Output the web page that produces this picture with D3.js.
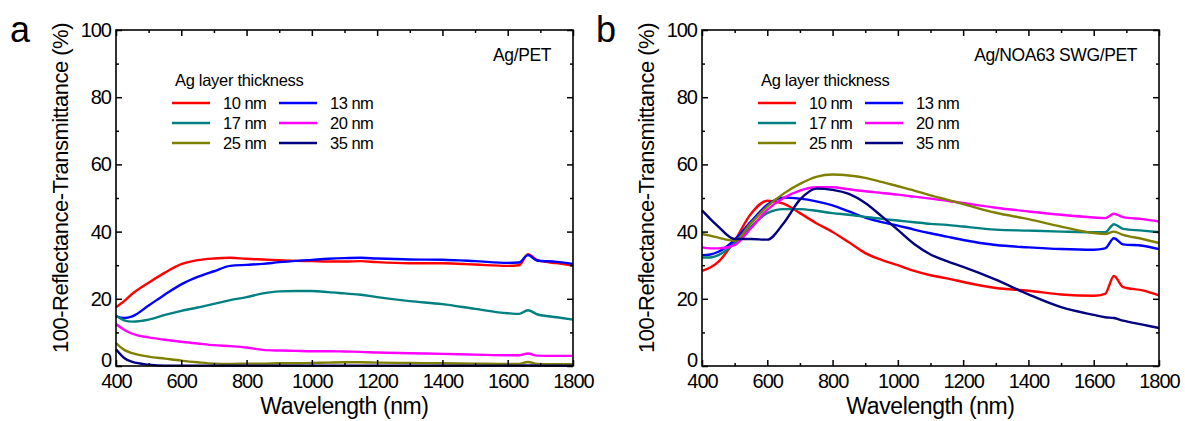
<!DOCTYPE html>
<html>
<head>
<meta charset="utf-8">
<script src="https://cdn.jsdelivr.net/npm/d3@7"></script>
<style>
  body { margin: 0; background: #fff; }
  svg { display: block; font-family: "Liberation Sans", Arial, sans-serif; }
</style>
</head>
<body>
<div id="chart"></div>
<script>
// wavelength grid (nm) shared by all curves
const wavelength = [400, 425, 450, 500, 550, 600, 650, 700, 750, 800, 850, 900, 950, 1000, 1050, 1100, 1150, 1200, 1300, 1400, 1500, 1600, 1635, 1662, 1690, 1750, 1800];

const thickness = ["10 nm", "13 nm", "17 nm", "20 nm", "25 nm", "35 nm"];
const colors = ["#ff0000", "#0000ff", "#008080", "#ff00ff", "#808000", "#000080"];

const xTicks = [400, 600, 800, 1000, 1200, 1400, 1600, 1800];
const yTicks = [0, 20, 40, 60, 80, 100];

// panel a : Ag/PET
const a_10nm = [17.5, 19.3, 21.5, 24.8, 27.8, 30.3, 31.5, 32, 32.2, 31.9, 31.7, 31.5, 31.3, 31.2, 31.1, 31.1, 31.2, 30.9, 30.6, 30.6, 30.2, 29.8, 30, 33.3, 31.5, 30.6, 29.9];
const a_13nm = [14.8, 14.3, 14.8, 18, 21.3, 24.3, 26.5, 28.2, 29.8, 30.1, 30.4, 30.9, 31.3, 31.6, 31.9, 32.1, 32.2, 32, 31.7, 31.6, 31.2, 30.7, 30.8, 33, 31.4, 31, 30.4];
const a_17nm = [15, 13.6, 13.2, 13.8, 15.2, 16.4, 17.4, 18.5, 19.6, 20.5, 21.6, 22.2, 22.3, 22.3, 22, 21.6, 21.2, 20.5, 19.3, 18.4, 17, 15.7, 15.5, 16.6, 15.4, 14.5, 13.8];
const a_20nm = [12.5, 10.8, 9.6, 8.5, 7.8, 7.2, 6.7, 6.2, 5.9, 5.5, 4.8, 4.6, 4.5, 4.4, 4.4, 4.3, 4.2, 4, 3.8, 3.6, 3.4, 3.2, 3.2, 3.7, 3.1, 3, 3];
const a_25nm = [6.8, 4.8, 3.8, 2.8, 2.2, 1.6, 1.1, 0.7, 0.6, 0.7, 0.7, 0.8, 0.8, 0.9, 1, 1.1, 1.1, 1, 0.9, 0.8, 0.7, 0.6, 0.6, 1.2, 0.6, 0.5, 0.5];
const a_35nm = [5, 2.4, 1.2, 0.4, 0.1, 0.1, 0.1, 0.1, 0.1, 0.1, 0.1, 0.1, 0.1, 0.1, 0.1, 0.1, 0.1, 0.1, 0.1, 0.1, 0.1, 0.1, 0.1, 0.2, 0.1, 0.1, 0.1];

// panel b : Ag/NOA63 SWG/PET
const b_10nm = [28.3, 29.3, 31, 37.3, 45.3, 49.2, 48.3, 45.5, 42.5, 39.9, 36.8, 33.6, 31.6, 30, 28.3, 27, 26.1, 25, 23.2, 22.4, 21.3, 20.9, 21.5, 26.8, 23.5, 22.5, 21];
const b_13nm = [33, 33.2, 34, 37.5, 43, 48, 50.1, 49.8, 49, 47.8, 46, 44.2, 42.8, 41.8, 40.6, 39.5, 38.5, 37.5, 36, 35.3, 34.8, 34.6, 35, 38, 36.2, 35.8, 34.8];
const b_17nm = [32.3, 32.3, 33, 36.5, 41.5, 45.5, 46.7, 46.7, 46.2, 45.5, 45, 44.4, 43.8, 43.3, 42.8, 42.3, 42, 41.5, 40.6, 40.3, 40, 39.8, 39.8, 42.2, 40.8, 40.3, 39.8];
const b_20nm = [35.3, 35, 35, 36, 41, 46.5, 50, 52.2, 53.2, 53.2, 52.6, 52, 51.5, 51, 50.4, 49.8, 49.2, 48.5, 47.1, 46, 45, 44.2, 44, 45.3, 44.3, 43.7, 43];
const b_25nm = [39.3, 38.8, 38.2, 37.3, 42.5, 47.5, 51.3, 54.2, 56.3, 57, 56.7, 56, 54.8, 53.5, 52.2, 50.8, 49.5, 48.2, 45.6, 43.7, 41.5, 39.6, 39.3, 40, 39, 37.8, 36.6];
const b_35nm = [46.3, 43.8, 41.5, 37.8, 37.8, 37.6, 42.5, 49.5, 52.8, 52.4, 51.2, 48.5, 44.6, 40.5, 36.3, 33.2, 31.2, 29.5, 25.7, 21.3, 17.5, 15.2, 14.5, 14.3, 13.5, 12.3, 11.3];

const panels = [
  { letter: "a", sample: "Ag/PET", left: 116, series: [a_10nm, a_13nm, a_17nm, a_20nm, a_25nm, a_35nm] },
  { letter: "b", sample: "Ag/NOA63 SWG/PET", left: 702, series: [b_10nm, b_13nm, b_17nm, b_20nm, b_25nm, b_35nm] }
];

const width = 1185, height = 421;
const plotW = 457, plotTop = 30, plotBottom = 366;

var svg = d3.select("#chart").append("svg")
  .attr("width", width)
  .attr("height", height);

function minorTicks(lo, hi, step) {
  var out = [];
  for (var v = lo; v <= hi + 1e-9; v += step) out.push(v);
  return out;
}

function drawPanel(p) {
  var x = d3.scaleLinear().domain([400, 1800]).range([p.left, p.left + plotW]);
  var y = d3.scaleLinear().domain([0, 100]).range([plotBottom, plotTop]);

  var g = svg.append("g");

  // curves
  var line = d3.line()
    .x(function (d) { return x(d[0]); })
    .y(function (d) { return y(d[1]); })
    .curve(d3.curveMonotoneX);

  p.series.forEach(function (vals, i) {
    g.append("path")
      .datum(wavelength.map(function (w, k) { return [w, vals[k]]; }))
      .attr("fill", "none")
      .attr("stroke", colors[i])
      .attr("stroke-width", 2.4)
      .attr("d", line);
  });

  // ticks on all four sides, pointing inward
  var xMinor = minorTicks(500, 1700, 200);
  var yMinor = minorTicks(10, 90, 20);
  var fmt = d3.format("d");

  var axes = [
    [d3.axisBottom(x).tickValues(xTicks).tickSize(-6).tickPadding(8).tickFormat(fmt), "translate(0," + plotBottom + ")", true],
    [d3.axisBottom(x).tickValues(xMinor).tickSize(-3).tickFormat(""), "translate(0," + plotBottom + ")", false],
    [d3.axisTop(x).tickValues(xTicks).tickSize(-6).tickFormat(""), "translate(0," + plotTop + ")", false],
    [d3.axisTop(x).tickValues(xMinor).tickSize(-3).tickFormat(""), "translate(0," + plotTop + ")", false],
    [d3.axisLeft(y).tickValues(yTicks).tickSize(-6).tickPadding(5).tickFormat(fmt), "translate(" + p.left + ",0)", true],
    [d3.axisLeft(y).tickValues(yMinor).tickSize(-3).tickFormat(""), "translate(" + p.left + ",0)", false],
    [d3.axisRight(y).tickValues(yTicks).tickSize(-6).tickFormat(""), "translate(" + (p.left + plotW) + ",0)", false],
    [d3.axisRight(y).tickValues(yMinor).tickSize(-3).tickFormat(""), "translate(" + (p.left + plotW) + ",0)", false]
  ];

  axes.forEach(function (a) {
    var ax = g.append("g").attr("transform", a[1]).call(a[0]);
    ax.select(".domain").remove();
    ax.selectAll("line").attr("stroke", "#000").attr("stroke-width", 1.5);
    if (a[2]) {
      ax.selectAll("text")
        .attr("fill", "#000")
        .style("font-size", "20px")
        .style("letter-spacing", "-1px")
        .style("font-family", "'Liberation Sans', Arial, sans-serif");
    }
  });

  // lift the "0" label a little so it clears the "400" below it
  g.selectAll("text")
    .filter(function (d) { return d === 0; })
    .attr("y", -6);

  // frame
  g.append("rect")
    .attr("x", p.left)
    .attr("y", plotTop)
    .attr("width", plotW)
    .attr("height", plotBottom - plotTop)
    .attr("fill", "none")
    .attr("stroke", "#000")
    .attr("stroke-width", 1.6);

  // axis titles
  g.append("text")
    .attr("x", p.left + plotW / 2)
    .attr("y", 414)
    .attr("text-anchor", "middle")
    .style("font-size", "23px")
    .style("letter-spacing", "-0.4px")
    .text("Wavelength (nm)");

  g.append("text")
    .attr("transform", "translate(" + (p.left - 48) + ",188) rotate(-90)")
    .attr("text-anchor", "middle")
    .style("font-size", "22px")
    .style("letter-spacing", "-0.5px")
    .text("100-Reflectance-Transmittance (%)");

  // panel letter
  g.append("text")
    .attr("x", p.left - 106)
    .attr("y", 42)
    .style("font-size", "36px")
    .text(p.letter);

  // sample label
  g.append("text")
    .attr("x", p.left + plotW - 22)
    .attr("y", 61)
    .attr("text-anchor", "end")
    .style("font-size", "17.5px")
    .style("letter-spacing", "-0.4px")
    .text(p.sample);

  // legend
  var lx = p.left + 56;
  g.append("text")
    .attr("x", lx + 3)
    .attr("y", 86)
    .style("font-size", "16.5px")
    .style("letter-spacing", "-0.3px")
    .text("Ag layer thickness");

  var items = g.selectAll(".legend-item")
    .data(thickness)
    .enter()
    .append("g")
    .attr("class", "legend-item")
    .attr("transform", function (d, i) {
      return "translate(" + (lx + (i % 2) * 107) + "," + (103 + Math.floor(i / 2) * 20) + ")";
    });

  items.append("line")
    .attr("x1", 0)
    .attr("x2", 38)
    .attr("stroke", function (d, i) { return colors[i]; })
    .attr("stroke-width", 2.4);

  items.append("text")
    .attr("x", 51)
    .attr("y", 6)
    .style("font-size", "16.5px")
    .style("letter-spacing", "-0.5px")
    .text(function (d) { return d; });
}

panels.forEach(drawPanel);
</script>
</body>
</html>
